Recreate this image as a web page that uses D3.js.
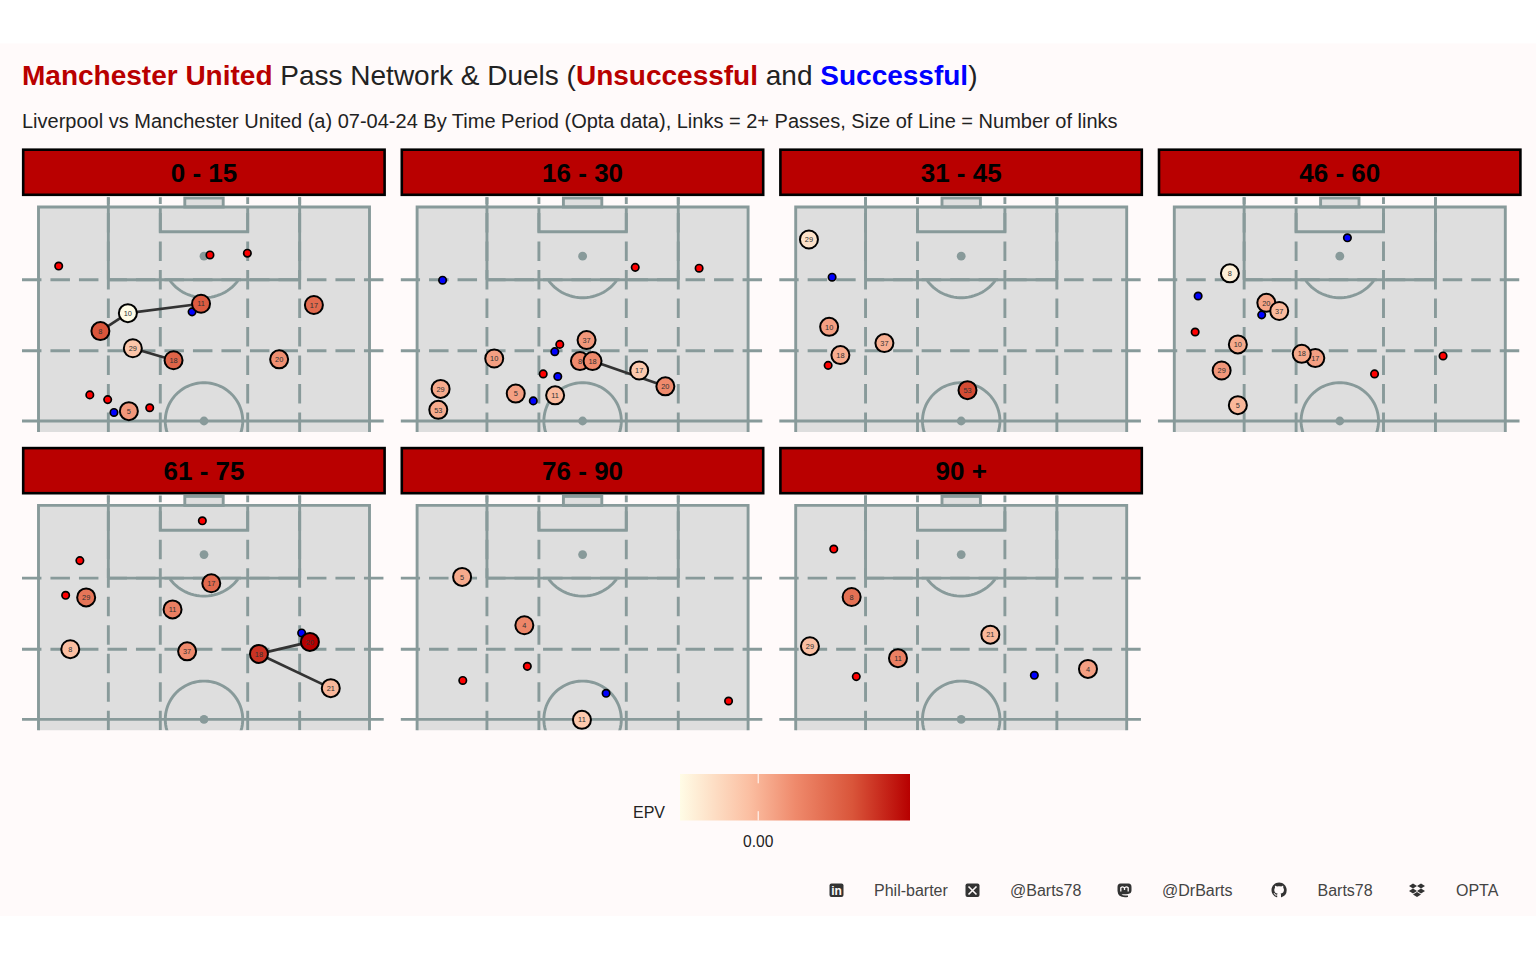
<!DOCTYPE html>
<html lang="en">
<head>
    <meta charset="UTF-8">
    <title>Manchester United Pass Network & Duels</title>
    <style>
        body { margin: 0; background: #fff; }
        svg { display: block; }
        text { font-family: "Liberation Sans", Arial, sans-serif; }
    </style>
    <script src="https://d3js.org/d3.v7.min.js"></script>
</head>
<body>
    <script>
        // one entry per time period, pitch units are Opta 0-100
        const periods = ["0 - 15", "16 - 30", "31 - 45", "46 - 60", "61 - 75", "76 - 90", "90 +"];

        const playerNumbers = [
            [5, 8, 10, 11, 17, 18, 20, 29],
            [5, 8, 10, 11, 17, 18, 20, 29, 37, 53],
            [10, 18, 29, 37, 53],
            [5, 8, 10, 17, 18, 20, 29, 37],
            [8, 11, 17, 18, 20, 21, 29, 37],
            [4, 5, 11],
            [4, 8, 11, 21, 29]
        ];
        const playerAcross = [
            [27.3, 18.7, 27.0, 49.1, 83.2, 40.8, 72.7, 28.5],
            [29.8, 49.2, 23.3, 41.7, 67.1, 53.0, 75.0, 7.1, 51.2, 6.4],
            [10.1, 13.5, 4.0, 26.8, 51.9],
            [19.2, 16.8, 19.2, 42.6, 38.5, 27.8, 14.3, 31.7],
            [9.6, 40.5, 52.2, 66.6, 82.0, 88.3, 14.4, 44.9],
            [32.4, 13.6, 49.8],
            [88.3, 16.9, 30.9, 58.8, 4.3]
        ];
        const playerAlong = [
            [52.3, 71.0, 75.2, 77.4, 77.1, 64.2, 64.4, 67.0],
            [56.4, 64.0, 64.6, 56.0, 61.8, 64.0, 58.1, 57.5, 68.9, 52.6],
            [72.0, 65.4, 92.4, 68.2, 57.2],
            [53.7, 84.5, 67.9, 64.7, 65.7, 77.6, 61.8, 75.7],
            [66.4, 75.7, 81.8, 65.3, 68.1, 57.3, 78.5, 65.9],
            [72.0, 83.3, 49.9],
            [61.8, 78.6, 64.3, 69.8, 67.1]
        ];
        const playerEpv = [
            [0.011, 0.041, -0.034, 0.038, 0.031, 0.034, 0.014, -0.007],
            [0.008, 0.016, 0.008, -0.002, -0.009, 0.016, 0.016, 0.004, 0.011, 0.004],
            [0.008, 0.003, -0.021, 0.002, 0.044],
            [-0.001, -0.028, 0.004, 0.008, 0.004, 0.006, 0.011, -0.002],
            [-0.004, 0.021, 0.031, 0.051, 0.066, -0.001, 0.026, 0.016],
            [0.018, 0.004, -0.009],
            [0.008, 0.028, 0.021, -0.001, -0.004]
        ];

        const linkFrom = [[10, 8, 29], [18], [], [], [18, 18], [], []];
        const linkTo = [[11, 10, 18], [20], [], [], [20, 21], [], []];

        const lostAcross = [
            [6.1, 51.8, 63.1, 15.5, 20.9, 33.6],
            [65.9, 85.2, 43.1, 38.1],
            [9.8],
            [6.3, 81.2, 60.5],
            [49.5, 12.5, 8.2],
            [33.3, 13.8, 94.1],
            [11.5, 18.3]
        ];
        const lostAlong = [
            [86.2, 88.8, 89.2, 56.1, 55.0, 53.1],
            [85.9, 85.7, 67.9, 61.0],
            [63.0],
            [70.8, 65.2, 61.0],
            [96.4, 87.1, 79.0],
            [62.4, 59.1, 54.3],
            [89.8, 60.0]
        ];
        const wonAcross = [
            [46.4, 22.8],
            [7.7, 41.6, 42.5, 35.1],
            [11.0],
            [52.3, 7.2, 26.4],
            [79.5],
            [57.1],
            [72.1]
        ];
        const wonAlong = [
            [75.5, 52.0],
            [82.9, 66.2, 60.4, 54.7],
            [83.6],
            [92.8, 79.2, 74.8],
            [70.2],
            [56.1],
            [60.3]
        ];

        const epvStops = [-0.034, -0.004, 0.016, 0.041, 0.066];
        const epvColours = ["#fffce6", "#fbbfa2", "#ef8a6c", "#d9553a", "#b70000"];
        const epvTicks = [0];

        const captionLabels = ["Phil-barter", "@Barts78", "@DrBarts", "Barts78", "OPTA"];
        const captionX = [874, 1010, 1162, 1317.5, 1456];

        const RED = "#b90000";
        const LINE = "#889a9a";
        const PANEL_STEP_X = 378.6;
        const PANEL_STEP_Y = 298.4;
        const PANEL_WIDTH = 363;
        const STRIP_HEIGHT = 47;

        const svg = d3.select("body").append("svg")
            .attr("width", 1536)
            .attr("height", 960);

        svg.append("rect")
            .attr("y", 43.5)
            .attr("width", 1536)
            .attr("height", 872.5)
            .attr("fill", "#fffafa");

        // title, with the coloured words as tspans
        const titleParts = [
            ["Manchester United", RED, true],
            [" Pass Network & Duels (", "#222", false],
            ["Unsuccessful", RED, true],
            [" and ", "#222", false],
            ["Successful", "#0000ff", true],
            [")", "#222", false]
        ];
        svg.append("text")
            .attr("x", 22)
            .attr("y", 85)
            .attr("font-size", 28)
            .selectAll("tspan")
            .data(titleParts)
            .join("tspan")
            .attr("fill", d => d[1])
            .attr("font-weight", d => d[2] ? "bold" : "normal")
            .attr("xml:space", "preserve")
            .style("white-space", "pre")
            .text(d => d[0]);

        svg.append("text")
            .attr("x", 22)
            .attr("y", 128)
            .attr("font-size", 20)
            .attr("fill", "#222")
            .text("Liverpool vs Manchester United (a) 07-04-24 By Time Period (Opta data), Links = 2+ Passes, Size of Line = Number of links");

        // same scales for every panel, panel origin is the strip's top left corner
        const x = d3.scaleLinear().domain([0, 100]).range([16.5, 347.5]);
        const y = d3.scaleLinear().domain([100, 50]).range([58.5, 272.5]);
        const colour = d3.scaleLinear().domain(epvStops).range(epvColours);

        const ALONG_TOP = 102.3;
        const ALONG_BOTTOM = 47.45;
        const line = d3.line().x(d => x(d[0])).y(d => y(d[1]));

        function ellipsePoints(cx, cy, rx, ry) {
            return d3.range(0, 361, 4).map(a => {
                const t = a * Math.PI / 180;
                return [cx + rx * Math.cos(t), cy + ry * Math.sin(t)];
            });
        }

        function drawPitch(g, i) {
            const clipId = "pitch-clip-" + i;
            g.append("clipPath").attr("id", clipId)
                .append("rect")
                .attr("x", 0)
                .attr("y", y(ALONG_TOP) - 1)
                .attr("width", PANEL_WIDTH)
                .attr("height", y(ALONG_BOTTOM) - y(ALONG_TOP) + 1);

            const pitch = g.append("g")
                .attr("clip-path", `url(#${clipId})`)
                .attr("fill", "none")
                .attr("stroke", LINE)
                .attr("stroke-width", 2.9);

            const add = (points, dashed) => pitch.append("path")
                .attr("d", line(points))
                .attr("stroke-dasharray", dashed ? "19.5,9" : null);

            // grass: goal, box and the pitch itself
            pitch.append("rect")
                .attr("x", x(0)).attr("y", y(100))
                .attr("width", x(100) - x(0))
                .attr("height", y(ALONG_BOTTOM) - y(100) + 3)
                .attr("fill", "#dedede")
                .attr("stroke", "none");
            pitch.append("rect")
                .attr("x", x(44.2)).attr("y", y(102.1))
                .attr("width", x(55.8) - x(44.2))
                .attr("height", y(100) - y(102.1))
                .attr("fill", "#dedede");

            add([[0, ALONG_BOTTOM - 3], [0, 100], [100, 100], [100, ALONG_BOTTOM - 3]]);
            add([[21.1, 83], [78.9, 83]]);
            add([[21.1, ALONG_TOP], [21.1, 83]]);
            add([[78.9, ALONG_TOP], [78.9, 83]]);
            add([[36.8, 100], [36.8, 94.2], [63.2, 94.2], [63.2, 100]]);
            add([[-5, 50], [104.3, 50]]);

            // thirds and channels, dashed
            [83, 66.4].forEach(a => add([[-5, a], [104.3, a]], true));
            [21.1, 36.8, 63.2, 78.9].forEach(a => add([[a, ALONG_BOTTOM], [a, ALONG_TOP]], true));

            add(ellipsePoints(50, 50, 11.7, 8.95));
            add(ellipsePoints(50, 88.5, 12.7, 9.7).filter(p => p[1] <= 83));

            pitch.selectAll("circle")
                .data([88.5, 50])
                .join("circle")
                .attr("cx", x(50))
                .attr("cy", d => y(d))
                .attr("r", 4.4)
                .attr("fill", LINE)
                .attr("stroke", "none");
        }

        function drawDuels(g, across, along, fill) {
            g.append("g")
                .selectAll("circle")
                .data(across)
                .join("circle")
                .attr("cx", d => x(d))
                .attr("cy", (d, j) => y(along[j]))
                .attr("r", 3.7)
                .attr("fill", fill)
                .attr("stroke", "#000")
                .attr("stroke-width", 1.7);
        }

        periods.forEach((period, i) => {
            const g = svg.append("g")
                .attr("transform", `translate(${22 + (i % 4) * PANEL_STEP_X},${148.5 + Math.floor(i / 4) * PANEL_STEP_Y})`);

            drawPitch(g, i);

            g.append("rect")
                .attr("x", 1.2)
                .attr("y", 1.2)
                .attr("width", PANEL_WIDTH - 1.6)
                .attr("height", STRIP_HEIGHT - 1.9)
                .attr("fill", RED)
                .attr("stroke", "#000")
                .attr("stroke-width", 2.6);
            g.append("text")
                .attr("x", x(50))
                .attr("y", 33.5)
                .attr("text-anchor", "middle")
                .attr("font-size", 26)
                .attr("font-weight", "bold")
                .attr("fill", "#000")
                .text(period);

            drawDuels(g, lostAcross[i], lostAlong[i], "#ff0000");
            drawDuels(g, wonAcross[i], wonAlong[i], "#0000ff");

            const players = playerNumbers[i].map((n, j) => ({
                number: n,
                across: playerAcross[i][j],
                along: playerAlong[i][j],
                epv: playerEpv[i][j]
            }));
            const byNumber = new Map(players.map(p => [p.number, p]));

            g.append("g")
                .selectAll("line")
                .data(linkFrom[i].map((n, j) => [byNumber.get(n), byNumber.get(linkTo[i][j])]))
                .join("line")
                .attr("x1", d => x(d[0].across))
                .attr("y1", d => y(d[0].along))
                .attr("x2", d => x(d[1].across))
                .attr("y2", d => y(d[1].along))
                .attr("stroke", "#333")
                .attr("stroke-width", 2.7);

            const nodes = g.append("g")
                .selectAll("g")
                .data(players)
                .join("g")
                .attr("transform", d => `translate(${x(d.across)},${y(d.along)})`);
            nodes.append("circle")
                .attr("r", 9)
                .attr("fill", d => colour(d.epv))
                .attr("stroke", "#000")
                .attr("stroke-width", 2);
            nodes.append("text")
                .attr("text-anchor", "middle")
                .attr("dy", "0.36em")
                .attr("font-size", 7.4)
                .attr("fill", "#333")
                .text(d => d.number);
        });

        // EPV colour bar
        const legendX = d3.scaleLinear().domain([epvStops[0], epvStops[4]]).range([680, 910]);
        const gradient = svg.append("defs").append("linearGradient").attr("id", "epv-bar");
        gradient.selectAll("stop")
            .data(epvStops)
            .join("stop")
            .attr("offset", d => (legendX(d) - 680) / 230)
            .attr("stop-color", d => colour(d));
        svg.append("rect")
            .attr("x", 680)
            .attr("y", 774)
            .attr("width", 230)
            .attr("height", 46.5)
            .attr("fill", "url(#epv-bar)");
        epvTicks.forEach(t => {
            [[774, 783.3], [811.2, 820.5]].forEach(e => {
                svg.append("line")
                    .attr("x1", legendX(t)).attr("x2", legendX(t))
                    .attr("y1", e[0]).attr("y2", e[1])
                    .attr("stroke", "#fff")
                    .attr("stroke-width", 1);
            });
            svg.append("text")
                .attr("x", legendX(t))
                .attr("y", 846.5)
                .attr("text-anchor", "middle")
                .attr("font-size", 15.6)
                .attr("fill", "#222")
                .text(d3.format(".2f")(t));
        });
        svg.append("text")
            .attr("x", 633)
            .attr("y", 818)
            .attr("font-size", 16)
            .attr("fill", "#222")
            .text("EPV");

        // caption
        svg.append("g")
            .selectAll("text")
            .data(captionLabels)
            .join("text")
            .attr("x", (d, i) => captionX[i])
            .attr("y", 896)
            .attr("font-size", 16)
            .attr("fill", "#444")
            .text(d => d);

        const ICON = "#333";
        function badge(left) {
            svg.append("rect")
                .attr("x", left).attr("y", 883.5)
                .attr("width", 14).attr("height", 13.5)
                .attr("rx", 2)
                .attr("fill", ICON);
        }
        // linkedin
        badge(829.5);
        svg.append("text")
            .attr("x", 836.5).attr("y", 895)
            .attr("text-anchor", "middle")
            .attr("font-size", 12)
            .attr("font-weight", "bold")
            .attr("fill", "#fffafa")
            .text("in");
        // x
        badge(965.5);
        svg.append("path")
            .attr("d", "M968.5 886.5L976.5 894.5M976.5 886.5L968.5 894.5")
            .attr("stroke", "#fffafa")
            .attr("stroke-width", 1.6);
        // mastodon
        svg.append("path")
            .attr("d", "M1120.5 883.5H1128.5Q1131.5 883.5 1131.5 887V890.5Q1131.5 893.5 1128 894Q1124 894.6 1121.5 894Q1122.5 896 1128 895.4V897Q1118 898.5 1117.5 891V887Q1117.5 883.5 1120.5 883.5Z")
            .attr("fill", ICON);
        svg.append("path")
            .attr("d", "M1120.8 891.5V887.8Q1122.8 885.7 1124.5 888V890M1124.5 890V888Q1126.2 885.7 1128.2 887.8V891.5")
            .attr("fill", "none")
            .attr("stroke", "#fffafa")
            .attr("stroke-width", 1.3);
        // github
        svg.append("path")
            .attr("transform", "translate(1271.5,882.5) scale(0.95)")
            .attr("d", "M8 0C3.58 0 0 3.58 0 8c0 3.54 2.29 6.53 5.47 7.59.4.07.55-.17.55-.38 0-.19-.01-.82-.01-1.49-2.01.37-2.53-.49-2.69-.94-.09-.23-.48-.94-.82-1.13-.28-.15-.68-.52-.01-.53.63-.01 1.08.58 1.23.82.72 1.21 1.87.87 2.33.66.07-.52.28-.87.51-1.07-1.78-.2-3.64-.89-3.64-3.95 0-.87.31-1.59.82-2.15-.08-.2-.36-1.02.08-2.12 0 0 .67-.21 2.2.82.64-.18 1.32-.27 2-.27.68 0 1.36.09 2 .27 1.53-1.04 2.2-.82 2.2-.82.44 1.1.16 1.92.08 2.12.51.56.82 1.27.82 2.15 0 3.07-1.87 3.75-3.65 3.95.29.25.54.73.54 1.48 0 1.07-.01 1.93-.01 2.2 0 .21.15.46.55.38A8.013 8.013 0 0016 8c0-4.42-3.58-8-8-8z")
            .attr("fill", ICON);
        // dropbox
        svg.append("path")
            .attr("d", "M1413 883.5L1417 886L1413 888.5L1409 886ZM1421 883.5L1425 886L1421 888.5L1417 886ZM1413 888.5L1417 891L1413 893.5L1409 891ZM1421 888.5L1425 891L1421 893.5L1417 891ZM1417 892L1421 894.5L1417 897L1413 894.5Z")
            .attr("fill", ICON);
    </script>
</body>
</html>
